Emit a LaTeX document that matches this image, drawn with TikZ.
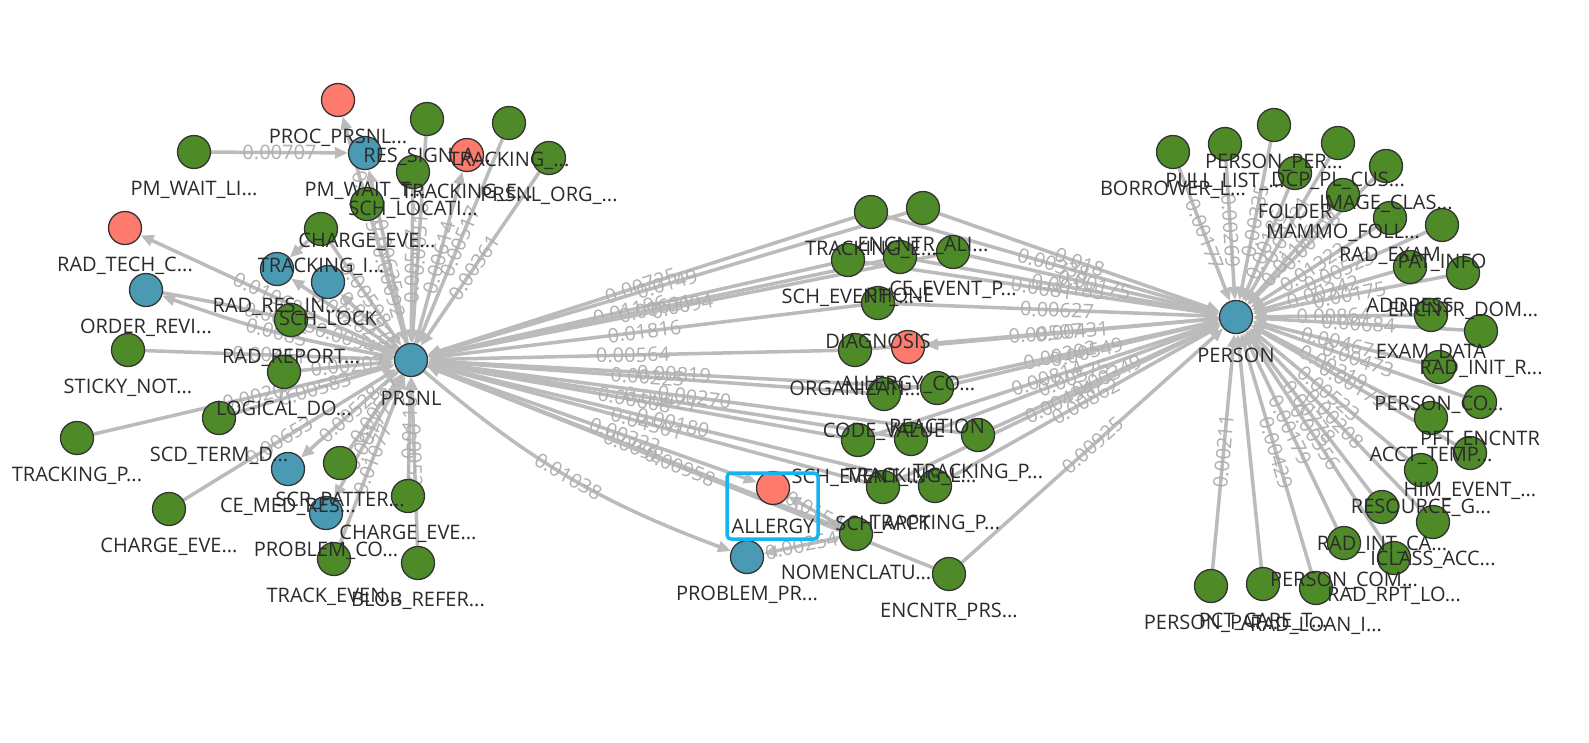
\documentclass[tikz,border=0pt]{standalone}
\usepackage{fontspec}
\setmainfont{Open Sans}
\usetikzlibrary{arrows.meta,calc}
\pgfdeclarelayer{edgelayer}
\pgfdeclarelayer{toplayer}
\pgfsetlayers{edgelayer,main,toplayer}
\definecolor{gn}{HTML}{4E8A27}
\definecolor{bl}{HTML}{4A9AB4}
\definecolor{rd}{HTML}{FD7A6C}
\definecolor{eg}{HTML}{BBBBBB}
\definecolor{lg}{HTML}{AFAFAF}
\definecolor{tx}{HTML}{2B2B2B}
\definecolor{hl}{HTML}{14B4F0}
\tikzset{
 vtx/.style={circle, draw=black!80, line width=1.3pt, minimum size=33pt, inner sep=0pt},
 gv/.style={vtx, fill=gn}, bv/.style={vtx, fill=bl}, rv/.style={vtx, fill=rd},
 lab/.style={font=\fontsize{20}{20}\selectfont, text=tx, inner sep=0pt},
 edge/.style={draw=eg, line width=3.5pt, -{Triangle[length=13pt,width=11pt]}},
 elab/.style={font=\fontsize{20}{20}\selectfont, text=lg, sloped, inner sep=0pt, pos=0.5},
 hlbox/.style={draw=hl, line width=3.5pt, rounded corners=4pt},
}
\newcommand\V[5]{%
 \node[#1] (#2) at (#3,#4) {};
 \begin{pgfonlayer}{toplayer}\node[lab] (#2-l) at (#3,#4+38) {#5};\end{pgfonlayer}}
\begin{document}
\begin{tikzpicture}[x=1pt,y=-1pt]
\useasboundingbox (0,0) rectangle (1589,742);
\begin{pgfonlayer}{edgelayer}\fill[white] (0,0) rectangle (1589,742);\end{pgfonlayer}
% left cluster
\V{rv}{L1}{338}{100}{PROC\_PRSNL...}
\V{gv}{L2}{194}{152}{PM\_WAIT\_LI...}
\V{bv}{L3}{365}{153}{PM\_WAIT\_T...}
\V{gv}{L4}{427}{119}{RES\_SIGN\_A...}
\V{gv}{L5}{509}{123}{TRACKING\_...}
\V{rv}{L6}{467}{155}{TRACKING\_E...}
\V{gv}{L7}{549}{158}{PRSNL\_ORG\_...}
\V{gv}{L8}{413}{172}{SCH\_LOCATI...}
\V{gv}{L9}{367}{204}{CHARGE\_EVE...}
\V{gv}{L10}{321}{229}{TRACKING\_I...}
\V{bv}{L11}{277}{269}{RAD\_RES\_IN...}
\V{bv}{L12}{328}{282}{SCH\_LOCK}
\V{gv}{L13}{291}{320}{RAD\_REPORT...}
\V{rv}{L14}{125}{228}{RAD\_TECH\_C...}
\V{bv}{L15}{146}{290}{ORDER\_REVI...}
\V{gv}{L16}{128}{350}{STICKY\_NOT...}
\V{gv}{L17}{284}{372}{LOGICAL\_DO...}
\V{gv}{L18}{77}{438}{TRACKING\_P...}
\V{gv}{L19}{219}{418}{SCD\_TERM\_D...}
\V{bv}{L20}{288}{469}{CE\_MED\_RES...}
\V{gv}{L21}{340}{463}{SCR\_PATTER...}
\V{bv}{L22}{326}{513}{PROBLEM\_CO...}
\V{gv}{L23}{408}{496}{CHARGE\_EVE...}
\V{gv}{L24}{169}{509}{CHARGE\_EVE...}
\V{gv}{L25}{334}{559}{TRACK\_EVEN...}
\V{gv}{L26}{418}{563}{BLOB\_REFER...}
\V{bv}{PRSNL}{411}{360}{PRSNL}
% middle cluster
\V{gv}{M1}{871}{212}{TRACKING\_E...}
\V{gv}{M2}{923}{208}{ENCNTR\_ALI...}
\V{gv}{M3}{848}{260}{SCH\_EVENT\_...}
\V{gv}{M4}{900}{257}{PHONE}
\V{gv}{M5}{953}{252}{CE\_EVENT\_P...}
\V{gv}{M6}{878}{303}{DIAGNOSIS}
\V{rv}{M7}{908}{347}{ALLERGY\_CO...}
\V{gv}{M8}{855}{350}{ORGANIZATI...}
\V{gv}{M9}{884}{394}{CODE\_VALUE}
\V{gv}{M10}{937}{388}{REACTION}
\V{gv}{M11}{858}{440}{SCH\_EVENT\_...}
\V{gv}{M12}{911}{439}{TRACKING\_L...}
\V{gv}{M13}{978}{435}{TRACKING\_P...}
\V{gv}{M14}{883}{487}{SCH\_APPT}
\V{gv}{M15}{935}{486}{TRACKING\_P...}
\V{rv}{M16}{773}{488}{ALLERGY}
\V{bv}{M17}{747}{557}{PROBLEM\_PR...}
\V{gv}{M18}{856}{534}{NOMENCLATU...}
\V{gv}{M19}{949}{574}{ENCNTR\_PRS...}
% right cluster
\V{bv}{PERSON}{1236}{317}{PERSON}
\V{gv}{R1}{1173}{152}{BORROWER\_L...}
\V{gv}{R2}{1225}{144}{PULL\_LIST\_...}
\V{gv}{R3}{1274}{125}{PERSON\_PER...}
\V{gv}{R4}{1338}{143}{DCP\_PL\_CUS...}
\V{gv}{R5}{1386}{166}{IMAGE\_CLAS...}
\V{gv}{R6}{1295}{173}{FOLDER}
\V{gv}{R7}{1343}{195}{MAMMO\_FOLL...}
\V{gv}{R8}{1390}{218}{RAD\_EXAM}
\V{gv}{R9}{1442}{225}{PAT\_INFO}
\V{gv}{R10}{1410}{267}{ADDRESS}
\V{gv}{R11}{1463}{273}{ENCNTR\_DOM...}
\V{gv}{R12}{1431}{315}{EXAM\_DATA}
\V{gv}{R13}{1481}{331}{RAD\_INIT\_R...}
\V{gv}{R14}{1439}{367}{PERSON\_CO...}
\V{gv}{R15}{1480}{402}{PFT\_ENCNTR}
\V{gv}{R16}{1431}{418}{ACCT\_TEMP...}
\V{gv}{R17}{1470}{453}{HIM\_EVENT\_...}
\V{gv}{R18}{1421}{470}{RESOURCE\_G...}
\V{gv}{R19}{1382}{507}{RAD\_INT\_CA...}
\V{gv}{R20}{1433}{522}{ICLASS\_ACC...}
\V{gv}{R21}{1344}{543}{PERSON\_COM...}
\V{gv}{R22}{1394}{558}{RAD\_RPT\_LO...}
\V{gv}{R23}{1211}{586}{PERSON\_PAT...}
\V{gv}{R24}{1263}{584}{PCT\_CARE\_T...}
\V{gv}{R25}{1316}{588}{RAD\_LOAN\_I...}
\begin{pgfonlayer}{toplayer}
\draw[hlbox] (727,473) rectangle (818,539);
\end{pgfonlayer}
\begin{pgfonlayer}{edgelayer}
% left cluster edges
\draw[edge] (L2) -- node[elab]{0.00707} (L3);
\draw[edge] (PRSNL) -- node[elab,pos=0.6]{0.00457} (L1);
\draw[edge] (PRSNL) -- node[elab]{0.00625} (L3);
\draw[edge] (L4) -- node[elab]{0.00316} (PRSNL);
\draw[edge] (L5) -- node[elab]{0.00517} (PRSNL);
\draw[edge] (PRSNL) -- node[elab]{0.00614} (L6);
\draw[edge] (L7) -- node[elab,pos=0.55]{0.00361} (PRSNL);
\draw[edge] (L8) -- node[elab]{0.00567} (PRSNL);
\draw[edge] (L9) -- node[elab]{0.00692} (PRSNL);
\draw[edge] (L10) -- node[elab]{0.00598} (PRSNL);
\draw[edge] (L10) -- (L11);
\draw[edge] (PRSNL) -- node[elab]{0.00262} (L11);
\draw[edge] (PRSNL) -- node[elab]{0.00776} (L12);
\draw[edge] (L13) -- node[elab]{0.00945} (PRSNL);
\draw[edge] (PRSNL) -- node[elab]{0.01068} (L14);
\draw[edge] (L15) to[bend left=5] node[elab]{0.00363} (PRSNL);
\draw[edge] (PRSNL) to[bend left=5] node[elab]{0.0085} (L15);
\draw[edge] (L16) -- node[elab]{0.00411} (PRSNL);
\draw[edge] (L17) -- node[elab]{0.00207} (PRSNL);
\draw[edge] (L18) -- node[elab,pos=0.55]{0.00202} (PRSNL);
\draw[edge] (L19) -- node[elab]{0.00583} (PRSNL);
\draw[edge] (PRSNL) -- node[elab]{0.00528} (L20);
\draw[edge] (L21) -- node[elab]{0.00587} (PRSNL);
\draw[edge] (PRSNL) -- node[elab]{0.00177} (L22);
\draw[edge] (L23) -- node[elab]{0.0116} (PRSNL);
\draw[edge] (L24) -- node[elab,pos=0.45]{0.00653} (PRSNL);
\draw[edge] (L25) -- node[elab]{0.01077} (PRSNL);
\draw[edge] (L26) -- node[elab]{0.00525} (PRSNL);
% middle to PRSNL
\draw[edge] (M1) -- node[elab]{0.00725} (PRSNL);
\draw[edge] (M2) -- node[elab]{0.0149} (PRSNL);
\draw[edge] (M3) -- node[elab]{0.01196} (PRSNL);
\draw[edge] (M4) -- node[elab]{0.00621} (PRSNL);
\draw[edge] (M5) -- node[elab]{0.0094} (PRSNL);
\draw[edge] (M6) -- node[elab]{0.01816} (PRSNL);
\draw[edge] (M8) -- node[elab]{0.00564} (PRSNL);
\draw[edge] (M9) -- node[elab]{0.00225} (PRSNL);
\draw[edge] (M10) -- node[elab]{0.00819} (PRSNL);
\draw[edge] (M11) -- node[elab]{0.00608} (PRSNL);
\draw[edge] (M12) -- node[elab]{0.00421} (PRSNL);
\draw[edge] (M13) -- node[elab]{0.00270} (PRSNL);
\draw[edge] (M14) -- node[elab]{0.04501} (PRSNL);
\draw[edge] (M15) -- node[elab]{0.00180} (PRSNL);
\draw[edge] (M18) -- node[elab]{0.0098} (PRSNL);
\draw[edge] (M19) -- node[elab]{0.00958} (PRSNL);
\draw[edge] (PRSNL) -- node[elab,pos=0.6]{0.00322} (M16);
\draw[edge] (PRSNL) to[bend right=10] node[elab]{0.01038} (M17);
\draw[edge] (M18) -- node[elab]{0.00254} (M17);
\draw[edge] (M18) -- node[elab]{0.0154} (M16);
% middle to PERSON
\draw[edge] (M1) -- node[elab]{0.00338} (PERSON);
\draw[edge] (M2) -- node[elab]{0.018} (PERSON);
\draw[edge] (M3) -- node[elab]{0.0081} (PERSON);
\draw[edge] (M4) -- node[elab]{0.00185} (PERSON);
\draw[edge] (M5) -- node[elab]{0.00175} (PERSON);
\draw[edge] (M6) -- node[elab]{0.00627} (PERSON);
\draw[edge] (M8) -- node[elab]{0.00507} (PERSON);
\draw[edge] (M9) -- node[elab]{0.00202} (PERSON);
\draw[edge] (M10) -- node[elab]{0.00549} (PERSON);
\draw[edge] (M11) -- node[elab]{0.00814} (PERSON);
\draw[edge] (M12) -- node[elab]{0.00575} (PERSON);
\draw[edge] (M13) -- node[elab]{0.00349} (PERSON);
\draw[edge] (M14) -- node[elab]{0.00434} (PERSON);
\draw[edge] (M15) -- node[elab]{0.00862} (PERSON);
\draw[edge] (M19) -- node[elab]{0.00925} (PERSON);
\draw[edge] (PERSON) -- node[elab]{0.00431} (M7);
% right cluster to PERSON
\draw[edge] (R1) -- node[elab]{0.00177} (PERSON);
\draw[edge] (R2) -- node[elab]{0.00269} (PERSON);
\draw[edge] (R3) -- node[elab]{0.00335} (PERSON);
\draw[edge] (R4) -- node[elab]{0.00721} (PERSON);
\draw[edge] (R5) -- node[elab]{0.00198} (PERSON);
\draw[edge] (R6) -- node[elab]{0.00186} (PERSON);
\draw[edge] (R7) -- node[elab]{0.01186} (PERSON);
\draw[edge] (R8) -- node[elab]{0.01323} (PERSON);
\draw[edge] (R9) -- node[elab]{0.00523} (PERSON);
\draw[edge] (R10) -- node[elab]{0.00342} (PERSON);
\draw[edge] (R11) -- node[elab]{0.00175} (PERSON);
\draw[edge] (R12) -- node[elab]{0.00864} (PERSON);
\draw[edge] (R13) -- node[elab]{0.00684} (PERSON);
\draw[edge] (R14) -- node[elab]{0.00467} (PERSON);
\draw[edge] (R15) -- node[elab]{0.00473} (PERSON);
\draw[edge] (R16) -- node[elab]{0.00219} (PERSON);
\draw[edge] (R17) -- node[elab]{0.00173} (PERSON);
\draw[edge] (R18) -- node[elab]{0.00523} (PERSON);
\draw[edge] (R19) -- node[elab]{0.00778} (PERSON);
\draw[edge] (R20) -- node[elab]{0.00208} (PERSON);
\draw[edge] (R21) -- node[elab]{0.00179} (PERSON);
\draw[edge] (R22) -- node[elab]{0.00356} (PERSON);
\draw[edge] (R23) -- node[elab]{0.00211} (PERSON);
\draw[edge] (R24) -- (PERSON);
\draw[edge] (R25) -- node[elab]{0.00429} (PERSON);
\end{pgfonlayer}
\end{tikzpicture}
\end{document}
